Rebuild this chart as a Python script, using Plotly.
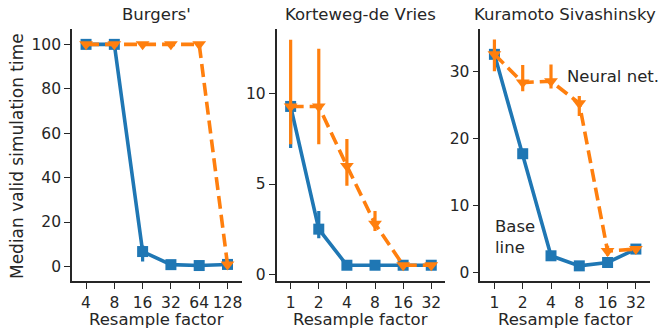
import plotly.graph_objects as go

# Resample factors per equation
burgers_factors = ["4", "8", "16", "32", "64", "128"]
kdv_factors = ["1", "2", "4", "8", "16", "32"]
ks_factors = ["1", "2", "4", "8", "16", "32"]

# Burgers' : median valid simulation time
burgers_base = [100, 100, 6.7, 0.8, 0.4, 0.9]
burgers_base_lo = [100, 100, 2.2, 0.8, 0.4, 0.9]
burgers_base_hi = [100, 100, 9.4, 0.8, 0.4, 0.9]
burgers_nn = [100, 100, 100, 100, 100, 0.9]
burgers_nn_lo = [100, 100, 100, 100, 100, 0.9]
burgers_nn_hi = [100, 100, 100, 100, 100, 0.9]

# Korteweg-de Vries
kdv_base = [9.3, 2.5, 0.5, 0.5, 0.5, 0.5]
kdv_base_lo = [7.0, 2.0, 0.5, 0.5, 0.5, 0.5]
kdv_base_hi = [9.5, 3.5, 0.5, 0.5, 0.5, 0.5]
kdv_nn = [9.3, 9.3, 6.0, 2.8, 0.5, 0.5]
kdv_nn_lo = [7.2, 7.2, 4.9, 2.4, 0.5, 0.5]
kdv_nn_hi = [13.0, 12.5, 7.5, 3.5, 0.5, 0.5]

# Kuramoto Sivashinsky
ks_base = [32.5, 17.7, 2.5, 1.0, 1.5, 3.5]
ks_base_lo = [32.0, 17.2, 2.2, 0.8, 1.2, 3.2]
ks_base_hi = [33.0, 18.2, 2.8, 1.2, 1.8, 3.8]
ks_nn = [32.5, 28.3, 28.5, 25.2, 3.2, 3.5]
ks_nn_lo = [30.0, 27.0, 27.4, 23.3, 2.5, 3.2]
ks_nn_hi = [34.7, 30.9, 31.0, 26.3, 4.0, 3.8]

titles = ["Burgers'", "Korteweg-de Vries", "Kuramoto Sivashinsky"]
y_ranges = [[-6.7, 107], [-0.39, 13.6], [-1.3, 36.3]]
y_ticks = [[0, 20, 40, 60, 80, 100], [0, 5, 10], [0, 10, 20, 30]]

BLUE = "#1f77b4"
ORANGE = "#ff7f0e"
INK = "#262626"
FONT = "DejaVu Sans"
LABEL_SIZE = 16.5
TICK_SIZE = 15.5

W, H = 663, 333
x_px = [(72, 242), (277, 446), (481, 651)]
y_px = (29, 283)

panels = [
    (burgers_factors, burgers_base, burgers_base_lo, burgers_base_hi,
     burgers_nn, burgers_nn_lo, burgers_nn_hi),
    (kdv_factors, kdv_base, kdv_base_lo, kdv_base_hi,
     kdv_nn, kdv_nn_lo, kdv_nn_hi),
    (ks_factors, ks_base, ks_base_lo, ks_base_hi,
     ks_nn, ks_nn_lo, ks_nn_hi),
]

fig = go.Figure()

for i, (fac, b, blo, bhi, n, nlo, nhi) in enumerate(panels):
    suffix = "" if i == 0 else str(i + 1)
    pos = list(range(len(fac)))
    fig.add_trace(go.Scatter(
        x=pos, y=b, mode="lines+markers",
        line=dict(color=BLUE, width=3.6),
        marker=dict(symbol="square", size=11, color=BLUE),
        error_y=dict(type="data", symmetric=False,
                     array=[h - v for h, v in zip(bhi, b)],
                     arrayminus=[v - l for v, l in zip(b, blo)],
                     color=BLUE, thickness=3.2, width=0),
        xaxis="x" + suffix, yaxis="y" + suffix, showlegend=False,
        cliponaxis=False,
    ))
    fig.add_trace(go.Scatter(
        x=pos, y=n, mode="lines+markers",
        line=dict(color=ORANGE, width=3.6, dash="13px,6px"),
        marker=dict(symbol="triangle-down", size=12, color=ORANGE),
        error_y=dict(type="data", symmetric=False,
                     array=[h - v for h, v in zip(nhi, n)],
                     arrayminus=[v - l for v, l in zip(n, nlo)],
                     color=ORANGE, thickness=3.2, width=0),
        xaxis="x" + suffix, yaxis="y" + suffix, showlegend=False,
        cliponaxis=False,
    ))

    x0, x1 = x_px[i]
    axis_common = dict(
        showline=True, linecolor=INK, linewidth=1.5, mirror=False,
        ticks="outside", ticklen=6, tickwidth=1.3, tickcolor=INK,
        showgrid=False, zeroline=False,
        tickfont=dict(family=FONT, size=TICK_SIZE, color=INK),
    )
    fig.layout["xaxis" + suffix] = dict(
        domain=[x0 / W, x1 / W], anchor="y" + suffix,
        range=[-0.5, len(fac) - 0.5],
        tickmode="array", tickvals=pos, ticktext=fac,
        **axis_common,
    )
    fig.layout["yaxis" + suffix] = dict(
        domain=[1 - y_px[1] / H, 1 - y_px[0] / H], anchor="x" + suffix,
        range=y_ranges[i], tickmode="array", tickvals=y_ticks[i],
        **axis_common,
    )
    # panel title
    fig.add_annotation(
        text=titles[i], xref="paper", yref="paper",
        x=(x0 + x1) / 2 / W, y=1 - 15 / H, showarrow=False,
        xanchor="center", yanchor="middle",
        font=dict(family=FONT, size=LABEL_SIZE, color=INK),
    )
    # x-axis label
    fig.add_annotation(
        text="Resample factor", xref="paper", yref="paper",
        x=(x0 + x1) / 2 / W, y=1 - 321 / H, showarrow=False,
        xanchor="center", yanchor="middle",
        font=dict(family=FONT, size=LABEL_SIZE, color=INK),
    )

# shared y-axis label
fig.add_annotation(text="Median valid simulation time", xref="paper",
                   yref="paper", x=17 / W, y=1 - 157 / H, showarrow=False,
                   textangle=-90, xanchor="center", yanchor="middle",
                   font=dict(family=FONT, size=LABEL_SIZE + 0.5, color=INK))

# Series labels inside the Kuramoto Sivashinsky panel
fig.add_annotation(text="Neural net.", xref="paper", yref="paper",
                   x=566 / W, y=1 - 77 / H, showarrow=False,
                   xanchor="left", yanchor="middle",
                   font=dict(family=FONT, size=LABEL_SIZE, color=INK))
fig.add_annotation(text="Base<br>line", xref="paper", yref="paper",
                   x=494 / W, y=1 - 238 / H, showarrow=False,
                   xanchor="left", yanchor="middle", align="left",
                   font=dict(family=FONT, size=LABEL_SIZE, color=INK))

fig.update_layout(
    width=W, height=H,
    margin=dict(l=0, r=0, t=0, b=0),
    paper_bgcolor="white", plot_bgcolor="white",
    font=dict(family=FONT, color=INK),
)

fig.write_html("out.html")
